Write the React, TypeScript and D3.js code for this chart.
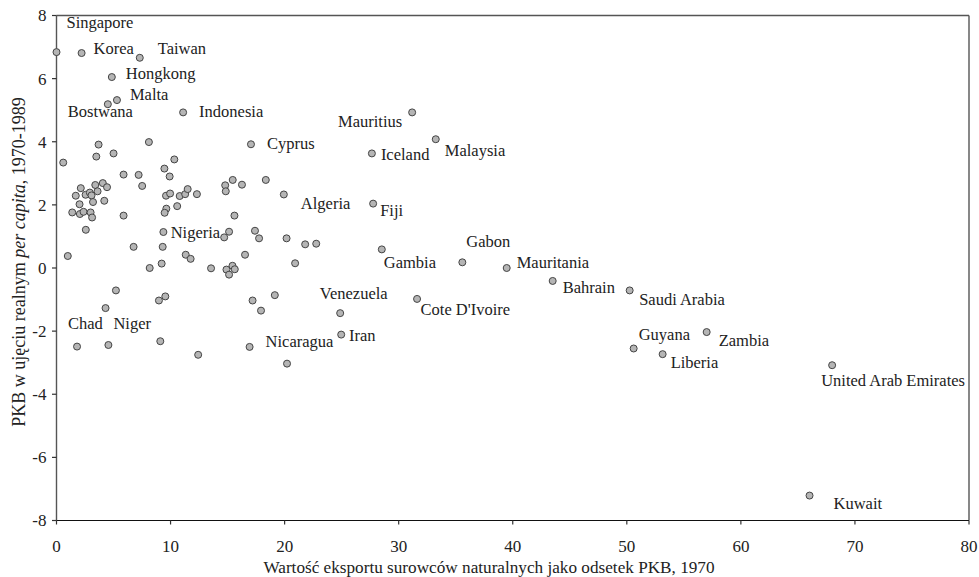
import React from "react";
import * as d3 from "d3";

// Labelled countries: x = natural resource exports (% GDP, 1970), y = real GDP per capita growth 1970-1989
const labelNames = ["Singapore","Korea","Taiwan","Hongkong","Malta","Bostwana","Indonesia","Cyprus","Mauritius","Malaysia","Iceland","Fiji","Algeria","Nigeria","Gabon","Gambia","Mauritania","Bahrain","Saudi Arabia","Cote D'Ivoire","Venezuela","Iran","Nicaragua","Guyana","Zambia","Liberia","United Arab Emirates","Kuwait","Chad","Niger"];
const labelX = [0.0,2.2,7.3,4.85,5.3,4.5,11.1,17.05,31.18,33.25,27.65,27.76,19.93,14.7,35.58,28.52,39.47,43.5,50.25,31.61,24.87,24.96,16.93,50.6,57.0,53.14,68.0,66.02,1.8,4.55];
const labelY = [6.84,6.81,6.66,6.05,5.32,5.19,4.93,3.92,4.93,4.08,3.63,2.04,2.33,0.97,0.18,0.59,0.0,-0.41,-0.71,-0.98,-1.43,-2.11,-2.5,-2.55,-2.03,-2.73,-3.08,-7.21,-2.49,-2.44];

// Unlabelled countries
const otherX = [0.59,3.49,3.69,5.0,8.1,1.38,1.69,2.13,2.02,2.05,2.37,2.55,2.92,3.07,3.2,3.4,3.6,2.99,3.12,4.06,4.43,4.19,2.57,0.99,5.88,5.88,7.2,7.51,6.76,8.17,5.21,4.3,9.46,10.33,9.92,9.6,9.96,9.63,9.48,10.58,10.8,11.28,11.5,12.31,9.37,9.31,9.22,11.33,11.76,8.98,9.54,9.1,12.42,13.55,14.79,14.84,15.45,16.26,15.6,15.13,14.9,15.43,15.13,15.63,16.53,17.4,17.76,18.35,20.17,21.8,22.77,20.92,17.19,17.93,19.14,20.21];
const otherY = [3.34,3.53,3.91,3.63,3.99,1.76,2.29,2.53,2.02,1.71,1.78,2.32,2.39,2.3,2.09,2.63,2.43,1.76,1.6,2.69,2.56,2.13,1.21,0.38,2.96,1.66,2.95,2.6,0.67,0.0,-0.71,-1.27,3.15,3.44,2.9,2.29,2.36,1.88,1.75,1.96,2.28,2.34,2.5,2.34,1.14,0.67,0.14,0.42,0.29,-1.03,-0.9,-2.32,-2.75,-0.01,2.62,2.43,2.79,2.64,1.66,1.15,-0.05,0.07,-0.21,-0.04,0.42,1.18,0.94,2.79,0.94,0.75,0.77,0.15,-1.03,-1.35,-0.86,-3.03];

const xTicks = [0,10,20,30,40,50,60,70,80];
const yTicks = [-8,-6,-4,-2,0,2,4,6,8];
const xTitle = "Wartość eksportu surowców naturalnych jako odsetek PKB, 1970";

// label placement (layout only): [dx, dy, anchor]
const labelLayout: Record<string, [number, number, string]> = {
  "Singapore": [10, -24.5, "start"],
  "Korea": [12, 1, "start"],
  "Taiwan": [18, -3.5, "start"],
  "Hongkong": [14, 2, "start"],
  "Malta": [13, 0, "start"],
  "Bostwana": [-40, 12.6, "start"],
  "Indonesia": [16, 4.5, "start"],
  "Cyprus": [16, 5, "start"],
  "Mauritius": [-10, 15, "end"],
  "Malaysia": [9, 17, "start"],
  "Iceland": [9, 6.7, "start"],
  "Fiji": [7, 12.7, "start"],
  "Algeria": [17, 14.7, "start"],
  "Nigeria": [-4, 1, "end"],
  "Gabon": [4, -15.5, "start"],
  "Gambia": [2, 18.5, "start"],
  "Mauritania": [10, 0, "start"],
  "Bahrain": [10, 11.6, "start"],
  "Saudi Arabia": [9.5, 14.3, "start"],
  "Cote D'Ivoire": [3.5, 16.3, "start"],
  "Venezuela": [-20.3, -13.7, "start"],
  "Iran": [7.7, 6.4, "start"],
  "Nicaragua": [16, 0, "start"],
  "Guyana": [5, -8, "start"],
  "Zambia": [12, 14, "start"],
  "Liberia": [8, 13.6, "start"],
  "United Arab Emirates": [-11, 20.3, "start"],
  "Kuwait": [24, 13, "start"],
  "Chad": [-9, -18, "start"],
  "Niger": [5, -16.4, "start"],
};

const W = 979, H = 577;
const FONT = "Liberation Serif, Times New Roman, Tinos, DejaVu Serif, serif";

export default function App() {
  const x = d3.scaleLinear().domain([0, 80]).range([56.5, 969]);
  const y = d3.scaleLinear().domain([-8, 8]).range([520.5, 15.5]);
  const [x0, x1] = x.range();
  const [y0, y1] = y.range();
  const others = otherX.map((v, i) => ({ x: v, y: otherY[i] }));
  const labelled = labelNames.map((n, i) => ({ name: n, x: labelX[i], y: labelY[i] }));
  const r = 3.5;
  const txt = { fontFamily: FONT, fill: "#222" } as React.CSSProperties;

  return (
    <svg width={W} height={H} style={{ position: "absolute", left: 0, top: 0, background: "#fff", fontFamily: FONT }}>
      {/* frame */}
      <line x1={x0} x2={x1} y1={y1} y2={y1} stroke="#555" strokeWidth={1.4} />
      <line x1={x1} x2={x1} y1={y1} y2={y0} stroke="#555" strokeWidth={1.4} />
      <line x1={x0} x2={x0} y1={y1} y2={y0} stroke="#555" strokeWidth={1.4} />
      <line x1={x0} x2={x1} y1={y0} y2={y0} stroke="#111" strokeWidth={1.2} />
      {/* y ticks */}
      {yTicks.map(t => (
        <g key={"y" + t}>
          <line x1={x0 - 4.5} x2={x0} y1={y(t)} y2={y(t)} stroke="#333" strokeWidth={1.2} />
          <text x={x0 - 10} y={y(t)} dy="0.35em" textAnchor="end" fontSize={17} style={txt}>{t}</text>
        </g>
      ))}
      {/* x ticks */}
      {xTicks.map(t => (
        <g key={"x" + t}>
          <line x1={x(t)} x2={x(t)} y1={y0} y2={y0 + 4} stroke="#333" strokeWidth={1.2} />
          <text x={x(t)} y={552} textAnchor="middle" fontSize={17} style={txt}>{t}</text>
        </g>
      ))}
      {/* axis titles */}
      <text x={489} y={573} textAnchor="middle" fontSize={17.2} style={txt}>{xTitle}</text>
      <text transform={`translate(25, ${262}) rotate(-90)`} textAnchor="middle" fontSize={18} style={txt}>
        PKB w ujęciu realnym <tspan fontStyle="italic">per capita</tspan>, 1970-1989
      </text>
      {/* points */}
      {others.map((d, i) => (
        <circle key={"o" + i} cx={x(d.x)} cy={y(d.y)} r={r} fill="#b5b5b5" stroke="#444" strokeWidth={1} />
      ))}
      {labelled.map((d) => (
        <circle key={"p" + d.name} cx={x(d.x)} cy={y(d.y)} r={r} fill="#b5b5b5" stroke="#444" strokeWidth={1} />
      ))}
      {labelled.map((d) => {
        const [dx, dy, anchor] = labelLayout[d.name];
        return (
          <text key={"l" + d.name} x={x(d.x) + dx} y={y(d.y) + dy} textAnchor={anchor} fontSize={16.5} style={txt}>{d.name}</text>
        );
      })}
    </svg>
  );
}
